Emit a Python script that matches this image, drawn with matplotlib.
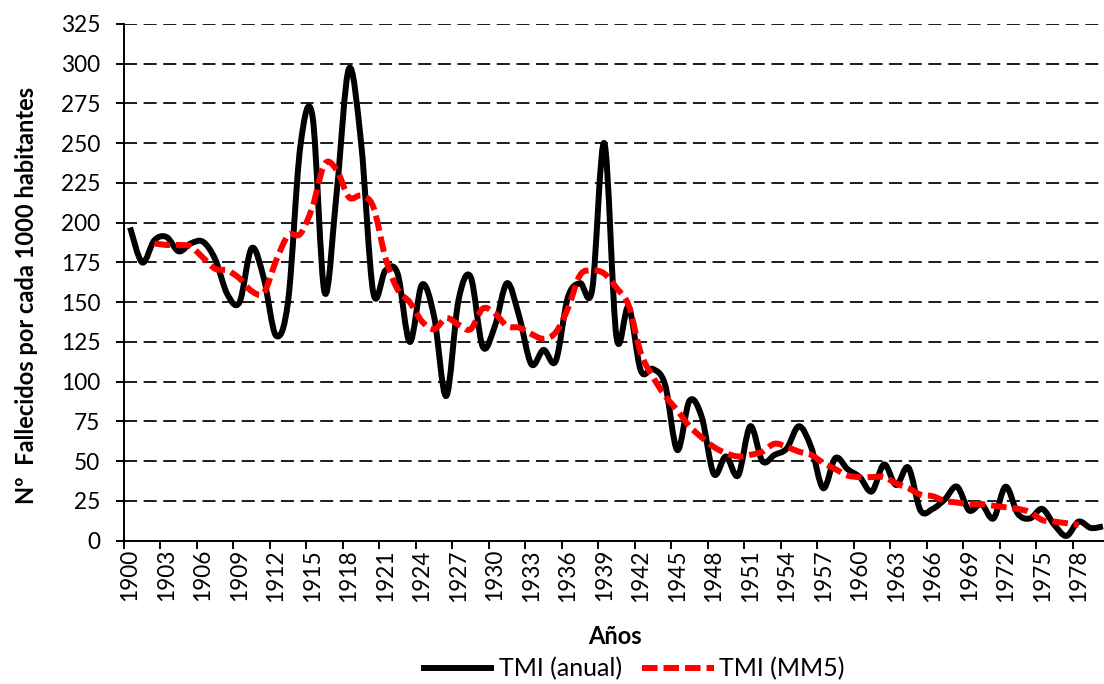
import numpy as np
import matplotlib
matplotlib.use("Agg")
import matplotlib.pyplot as plt
from matplotlib.path import Path
from matplotlib.patches import PathPatch
from matplotlib.lines import Line2D

# ---------------- data ----------------
years = list(range(1900, 1981))
tmi_anual = [197, 175, 189, 191, 182, 187, 188, 177, 155, 150,
             184, 165, 129, 151, 248, 267, 156, 220, 297, 250,
             156, 170, 168, 125, 161, 141, 91, 151, 166, 122,
             135, 162, 141, 111, 120, 113, 153, 162, 158, 250,
             128, 147, 107, 108, 98, 57, 88, 78, 42, 53,
             41, 72, 50, 54, 58, 72, 59, 33, 52, 45,
             40, 31, 48, 35, 46, 19, 20, 26, 34, 19,
             23, 14, 34, 17, 14, 20, 10, 3, 12, 8,
             9]
mm5_years = list(range(1902, 1979))
tmi_mm5 = [187, 186, 186, 185, 178, 171, 170, 165, 157, 156,
           176, 192, 193, 210, 237, 233, 216, 217, 210, 178,
           158, 150, 138, 133, 140, 136, 133, 146, 143, 135,
           134, 130, 127, 131, 146, 167, 170, 168, 159, 148,
           118, 103, 91, 82, 72, 65, 59, 55, 53, 54,
           56, 61, 59, 56, 54, 49, 45, 41, 40, 40,
           40, 36, 33, 29, 28, 25, 24, 23, 23, 22,
           21, 20, 18, 13, 12, 11, 10]
y_ticks = list(range(0, 326, 25))
label_years = list(range(1900, 1979, 3))
series_names = ["TMI (anual)", "TMI (MM5)"]
y_title = "Nº  Fallecidos por cada 1000 habitantes"
x_title = "Años"

plt.rcParams['font.family'] = ['Lato', 'DejaVu Sans']
FS_TICK = 16.3
FS_TITLE = 17.0
FS_LEG = 18


def smooth_path(xs, ys):
    """Excel-like smoothed line: cubic Bezier through the data points."""
    pts = np.column_stack([xs, ys]).astype(float)
    n = len(pts)
    verts = [pts[0]]
    codes = [Path.MOVETO]
    for i in range(n - 1):
        p0 = pts[max(i - 1, 0)]
        p1 = pts[i]
        p2 = pts[i + 1]
        p3 = pts[min(i + 2, n - 1)]
        c1 = p1 + (p2 - p0) / 6.0
        c2 = p2 - (p3 - p1) / 6.0
        verts += [c1, c2, p2]
        codes += [Path.CURVE4] * 3
    return Path(verts, codes)


W, H = 1104, 684
fig = plt.figure(figsize=(W / 100, H / 100), dpi=100)
fig.patch.set_facecolor('white')
ax = fig.add_axes([124 / W, (H - 540.7) / H, 985 / W, 516.7 / H])

ax.set_xlim(1899.5, 1980.5)
ax.set_ylim(0, 325)

black_lw = 4.3
red_lw = 4.3
red_dash = (0, (2.6, 1.0))

ax.add_patch(PathPatch(smooth_path(years, tmi_anual), fill=False,
                       edgecolor='black', lw=black_lw, capstyle='butt',
                       joinstyle='round', zorder=3))
ax.add_patch(PathPatch(smooth_path(mm5_years, tmi_mm5), fill=False,
                       edgecolor='#FF0000', lw=red_lw, linestyle=red_dash,
                       capstyle='butt', joinstyle='round', zorder=4))

# y axis
ax.set_yticks(y_ticks)
ax.set_yticklabels([str(v) for v in y_ticks], fontsize=FS_TICK)
ax.tick_params(axis='y', direction='out', length=6, width=1.4, pad=11,
               colors='black')
ax.yaxis.grid(True, color='black', lw=1.25, linestyle=(0, (7.5, 3.8)))
ax.set_axisbelow(True)

# x axis: ticks at category boundaries, labels at category centres
bounds = [y0 - 0.5 for y0 in label_years] + [1980.5]
ax.set_xticks(bounds)
ax.set_xticklabels([''] * len(bounds))
ax.set_xticks(label_years, minor=True)
ax.set_xticklabels([str(v) for v in label_years], minor=True,
                   rotation=90, fontsize=FS_TICK)
ax.tick_params(axis='x', which='major', direction='out', length=6,
               width=1.4, colors='black')
ax.tick_params(axis='x', which='minor', length=0, pad=6)

for s in ['top', 'right']:
    ax.spines[s].set_visible(False)
for s in ['left', 'bottom']:
    ax.spines[s].set_linewidth(1.4)
    ax.spines[s].set_color('black')

fig.text(27 / W, 1 - 295 / H, y_title, rotation=90, ha='center',
         va='center', fontsize=FS_TITLE, fontweight='bold')
fig.text(615 / W, 1 - 636 / H, x_title, ha='center', va='center',
         fontsize=FS_TITLE, fontweight='bold')

handles = [Line2D([], [], color='black', lw=black_lw, solid_capstyle='butt'),
           Line2D([], [], color='#FF0000', lw=red_lw, linestyle=red_dash,
                  dash_capstyle='butt')]
fig.legend(handles, series_names, loc='center',
           bbox_to_anchor=(633 / W, 1 - 669 / H), ncol=2, frameon=False,
           fontsize=FS_LEG, handlelength=2.9, handletextpad=0.2,
           columnspacing=0.8, borderaxespad=0, borderpad=0)

fig.savefig('out.png', dpi=100, facecolor='white')
